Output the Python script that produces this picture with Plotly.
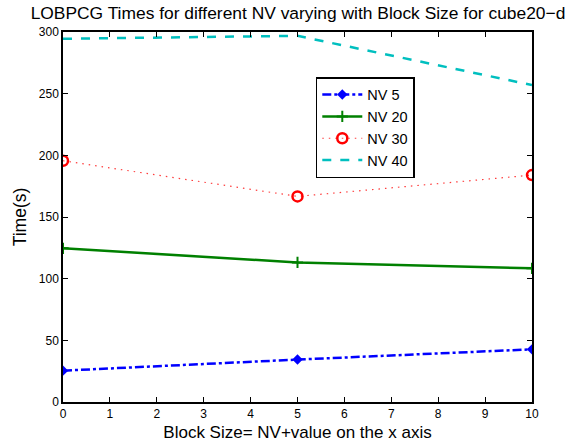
import plotly.graph_objects as go

block_offsets = [0, 5, 10]
nv5 = [25.4, 34.4, 42.7]
nv20 = [124.6, 113.2, 108.4]
nv30 = [195.6, 166.7, 184.0]
nv40 = [294.5, 296.9, 257.0]
series_names = ["NV 5", "NV 20", "NV 30", "NV 40"]

FONT = "Liberation Sans, Arial, Helvetica, sans-serif"

fig = go.Figure()
fig.add_trace(go.Scatter(x=block_offsets, y=nv5, name=series_names[0], mode="lines+markers",
                         line=dict(color="rgb(0,0,255)", width=2.5, dash="dashdot"),
                         marker=dict(symbol="diamond", size=8, color="rgb(0,0,255)")))
fig.add_trace(go.Scatter(x=block_offsets, y=nv20, name=series_names[1], mode="lines+markers",
                         line=dict(color="rgb(0,128,0)", width=2.5, dash="solid"),
                         marker=dict(symbol="cross-thin", size=8, color="rgb(0,128,0)",
                                     line=dict(color="rgb(0,128,0)", width=2))))
fig.add_trace(go.Scatter(x=block_offsets, y=nv30, name=series_names[2], mode="lines+markers",
                         line=dict(color="rgb(255,60,60)", width=1.2, dash="1.5px,5px"),
                         marker=dict(symbol="circle-open", size=10, color="rgb(255,0,0)",
                                     line=dict(color="rgb(255,0,0)", width=2.5))))
fig.add_trace(go.Scatter(x=block_offsets, y=nv40, name=series_names[3], mode="lines",
                         line=dict(color="rgb(0,191,191)", width=2.5, dash="dash")))

axis_common = dict(showline=True, linecolor="black", linewidth=1.5, mirror="allticks",
                   ticks="inside", ticklen=5, tickcolor="black", tickwidth=1,
                   showgrid=False, zeroline=False, automargin=False,
                   tickfont=dict(family=FONT, size=12, color="black"))

fig.update_layout(
    width=566, height=446,
    margin=dict(l=63, r=34, t=32, b=44),
    paper_bgcolor="white", plot_bgcolor="white",
    font=dict(family=FONT, color="black"),
    title=dict(text="LOBPCG Times for different NV varying with Block Size for cube20\u2212d",
               x=0.5265, xanchor="center", y=0.972, yanchor="middle",
               font=dict(family=FONT, size=17.4, color="black")),
    xaxis=dict(range=[0, 10], dtick=1, tick0=0,
               title=dict(text="Block Size= NV+value on the x axis", standoff=6,
                          font=dict(family=FONT, size=17, color="black")),
               **axis_common),
    yaxis=dict(range=[0, 300], dtick=50, tick0=0,
               title=dict(text="Time(s)", standoff=8,
                          font=dict(family=FONT, size=17.5, color="black")),
               **axis_common),
    legend=dict(x=0.539, y=0.878, xanchor="left", yanchor="top",
                bgcolor="white", bordercolor="black", borderwidth=1.5,
                font=dict(family=FONT, size=14.5, color="black"),
                tracegroupgap=0, itemwidth=40),
    showlegend=True,
)

fig.write_html("out.html")
